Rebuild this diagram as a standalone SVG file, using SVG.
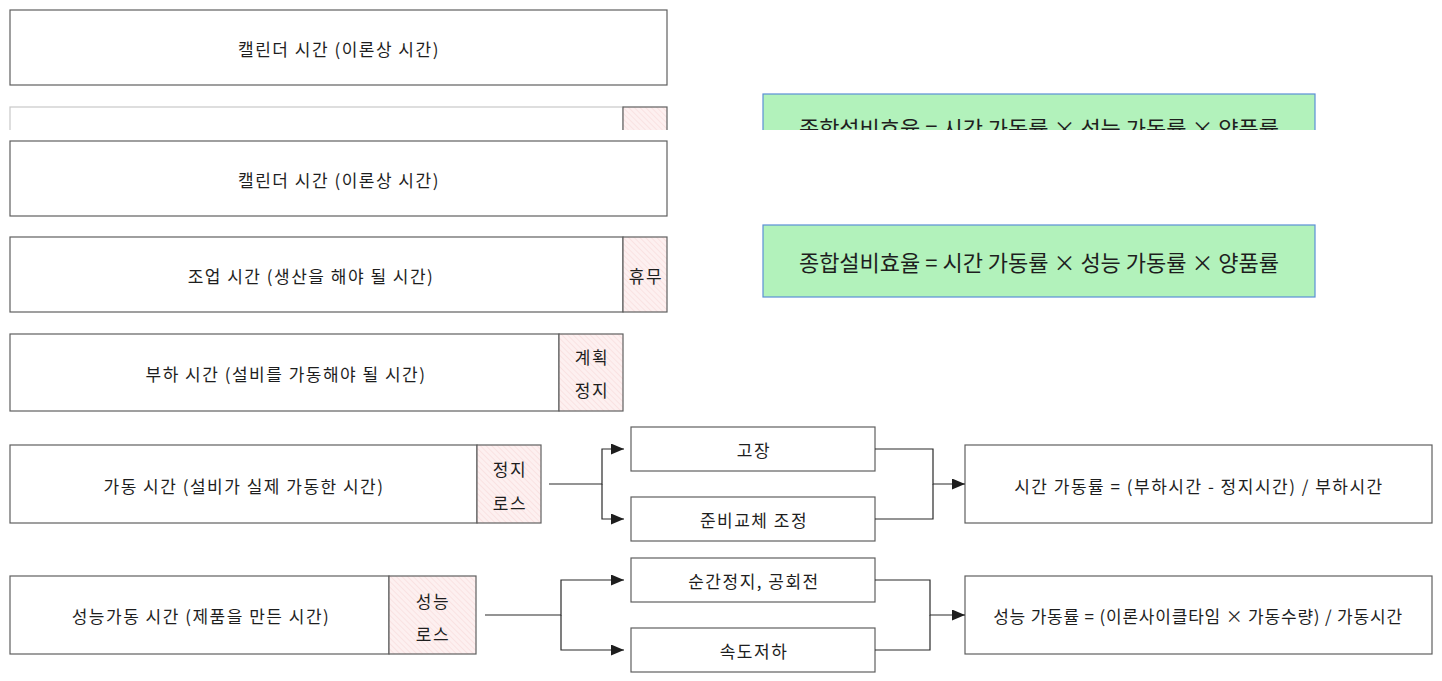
<svg xmlns="http://www.w3.org/2000/svg" width="1442" height="681" viewBox="0 0 1442 681">
<style>
.box{fill:#ffffff;stroke:#5f5f5f;stroke-width:1.2}
.pink{fill:url(#hatch);stroke:#5f5f5f;stroke-width:1.2}
.green{fill:#b2f2bb;stroke:#5b8fd6;stroke-width:1.2}
.t{font-family:"Noto Sans CJK KR","Noto Sans",sans-serif;font-size:17px;letter-spacing:1.5px;fill:#1e1e1e;text-anchor:middle;dominant-baseline:central}
.tg{font-family:"Noto Sans CJK KR","Noto Sans",sans-serif;font-size:22px;fill:#1e1e1e;text-anchor:middle;dominant-baseline:central}
.c{fill:none;stroke:#2a2a2a;stroke-width:1.2}
</style>
<defs>
<pattern id="hatch" patternUnits="userSpaceOnUse" width="4" height="4" patternTransform="rotate(-45)">
<rect width="4" height="4" fill="#fdf0f0"/>
<line x1="0" y1="0" x2="0" y2="4" stroke="#f6d4d4" stroke-width="1"/>
</pattern>
<marker id="arr" viewBox="0 0 13 11" refX="13" refY="5.5" markerWidth="13" markerHeight="11" markerUnits="userSpaceOnUse" orient="auto">
<path d="M0,0 L13,5.5 L0,11 Z" fill="#1e1e1e"/>
</marker>
<clipPath id="clipTop"><rect x="0" y="90" width="1442" height="40"/></clipPath>
</defs>

<g id="calendar1">
<rect class="box" x="10" y="10" width="657" height="75"/>
<text class="t" x="339" y="48">캘린더 시간 (이론상 시간)</text>
</g>

<g id="ghost-work" clip-path="url(#clipTop)">
<rect x="10" y="107" width="613" height="75" fill="#fff" stroke="#c8c8c8" stroke-width="1.2"/>
<rect class="pink" x="623" y="107" width="44" height="75"/>
<text class="t" x="316" y="145">조업 시간 (생산을 해야 될 시간)</text>
</g>

<g id="ghost-oee" clip-path="url(#clipTop)">
<rect class="green" x="763" y="94" width="552" height="72"/>
<text class="tg" x="1039" y="127">종합설비효율 = 시간 가동률 × 성능 가동률 × 양품률</text>
</g>

<g id="calendar2">
<rect class="box" x="10" y="141" width="657" height="75"/>
<text class="t" x="339" y="179">캘린더 시간 (이론상 시간)</text>
</g>

<g id="oee">
<rect class="green" x="763" y="225" width="552" height="72"/>
<text class="tg" x="1039" y="261">종합설비효율 = 시간 가동률 × 성능 가동률 × 양품률</text>
</g>

<g id="work">
<rect class="box" x="10" y="237" width="613" height="75"/>
<rect class="pink" x="623" y="237" width="44" height="75"/>
<text class="t" x="311" y="275">조업 시간 (생산을 해야 될 시간)</text>
<text class="t" x="646" y="275">휴무</text>
</g>

<g id="load">
<rect class="box" x="10" y="334" width="549" height="77"/>
<rect class="pink" x="559" y="334" width="64" height="77"/>
<text class="t" x="286" y="373">부하 시간 (설비를 가동해야 될 시간)</text>
<text class="t" x="592" y="356">계획</text>
<text class="t" x="592" y="389">정지</text>
</g>

<g id="operate">
<rect class="box" x="10" y="445" width="467" height="78"/>
<rect class="pink" x="477" y="445" width="64" height="78"/>
<text class="t" x="244" y="485">가동 시간 (설비가 실제 가동한 시간)</text>
<text class="t" x="510" y="468">정지</text>
<text class="t" x="510" y="502">로스</text>
</g>

<g id="perf">
<rect class="box" x="10" y="576" width="379" height="78"/>
<rect class="pink" x="389" y="576" width="87" height="78"/>
<text class="t" x="201" y="615">성능가동 시간 (제품을 만든 시간)</text>
<text class="t" x="433" y="600">성능</text>
<text class="t" x="433" y="633">로스</text>
</g>

<g id="breakdown">
<rect class="box" x="631" y="427" width="244" height="44"/>
<text class="t" x="754" y="449">고장</text>
</g>
<g id="setup">
<rect class="box" x="631" y="497" width="244" height="44"/>
<text class="t" x="754" y="519">준비교체 조정</text>
</g>
<g id="idle">
<rect class="box" x="631" y="558" width="244" height="44"/>
<text class="t" x="754" y="580">순간정지, 공회전</text>
</g>
<g id="speed">
<rect class="box" x="631" y="628" width="244" height="44"/>
<text class="t" x="754" y="650">속도저하</text>
</g>

<g id="avail">
<rect class="box" x="965" y="445" width="467" height="78"/>
<text class="t" x="1199" y="485">시간 가동률 = (부하시간 - 정지시간) / 부하시간</text>
</g>
<g id="perfrate">
<rect class="box" x="965" y="576" width="467" height="78"/>
<text class="t" x="1198" y="615" style="letter-spacing:0.8px">성능 가동률 = (이론사이클타임 × 가동수량) / 가동시간</text>
</g>

<g id="connectors">
<path class="c" d="M549,484 H602 V449 H624" marker-end="url(#arr)"/>
<path class="c" d="M602,484 V519 H624" marker-end="url(#arr)"/>
<path class="c" d="M875,449 H933 V484 H965" marker-end="url(#arr)"/>
<path class="c" d="M875,519 H933 V484"/>
<path class="c" d="M485,615 H561 V580 H624" marker-end="url(#arr)"/>
<path class="c" d="M561,615 V650 H624" marker-end="url(#arr)"/>
<path class="c" d="M875,580 H930 V615 H965" marker-end="url(#arr)"/>
<path class="c" d="M875,650 H930 V615"/>
</g>
</svg>
